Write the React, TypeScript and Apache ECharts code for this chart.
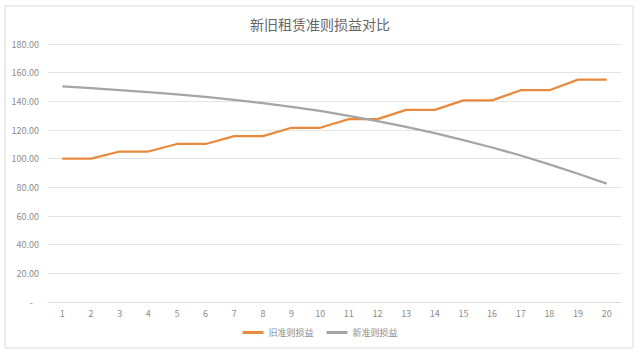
import React, { useEffect, useRef } from "react";
import * as echarts from "echarts";

const categories = ["1","2","3","4","5","6","7","8","9","10","11","12","13","14","15","16","17","18","19","20"];
const oldRule = [100, 100, 105, 105, 110.25, 110.25, 115.76, 115.76, 121.55, 121.55, 127.63, 127.63, 134.01, 134.01, 140.71, 140.71, 147.75, 147.75, 155.13, 155.13];
const newRule = [150.5, 149.3, 147.9, 146.5, 144.9, 143.1, 141.0, 138.7, 136.2, 133.3, 129.8, 126.2, 122.2, 117.8, 112.9, 107.8, 102.2, 96.0, 89.5, 82.6];
const seriesNames = ["旧准则损益", "新准则损益"];
const titleText = "新旧租赁准则损益对比";

const FONT = "'Noto Sans CJK SC', 'Liberation Sans', sans-serif";

export default function App() {
  const ref = useRef<HTMLDivElement>(null);
  useEffect(() => {
    if (!ref.current) return;
    const chart = echarts.init(ref.current, undefined, { renderer: "svg" });
    chart.setOption({
      animation: false,
      backgroundColor: "#ffffff",
      title: {
        text: titleText,
        left: "center",
        top: 12,
        textStyle: { fontFamily: FONT, fontSize: 14, fontWeight: "normal", color: "#666666" },
      },
      graphic: [
        {
          type: "rect",
          shape: { x: 5, y: 6, width: 628, height: 342 },
          style: { fill: "none", stroke: "#d9d9d9", lineWidth: 1 },
          silent: true,
        },
      ],
      legend: {
        data: seriesNames,
        bottom: 12,
        left: "center",
        icon: "rect",
        itemWidth: 21,
        itemHeight: 3,
        itemGap: 13,
        textStyle: { fontFamily: FONT, fontSize: 9, color: "#8c8c8c" },
      },
      grid: { left: 48, right: 19, top: 44, bottom: 52 },
      xAxis: {
        type: "category",
        data: categories,
        boundaryGap: true,
        axisLine: { show: true, lineStyle: { color: "#d9d9d9", width: 1 } },
        axisTick: { show: false },
        axisLabel: { fontFamily: FONT, fontSize: 9, color: "#8c8c8c", margin: 7 },
      },
      yAxis: {
        type: "value",
        min: 0,
        max: 180,
        interval: 20,
        axisLine: { show: false },
        axisTick: { show: false },
        splitLine: { lineStyle: { color: "#e3e3e3", width: 1 } },
        axisLabel: {
          fontFamily: FONT,
          fontSize: 9,
          color: "#8c8c8c",
          margin: 9,
          formatter: (v: number) => (v === 0 ? "-   " : v.toFixed(2)),
        },
      },
      series: [
        {
          name: seriesNames[0],
          type: "line",
          data: oldRule,
          showSymbol: false,
          symbol: "none",
          lineStyle: { color: "#E8893E", width: 2.25 },
          itemStyle: { color: "#E8893E" },
        },
        {
          name: seriesNames[1],
          type: "line",
          data: newRule,
          showSymbol: false,
          symbol: "none",
          lineStyle: { color: "#A5A5A5", width: 2.25 },
          itemStyle: { color: "#A5A5A5" },
        },
      ],
    });
    return () => chart.dispose();
  }, []);
  return (
    <div
      ref={ref}
      style={{ position: "fixed", left: 0, top: 0, width: 640, height: 354, background: "#fff" }}
    />
  );
}
